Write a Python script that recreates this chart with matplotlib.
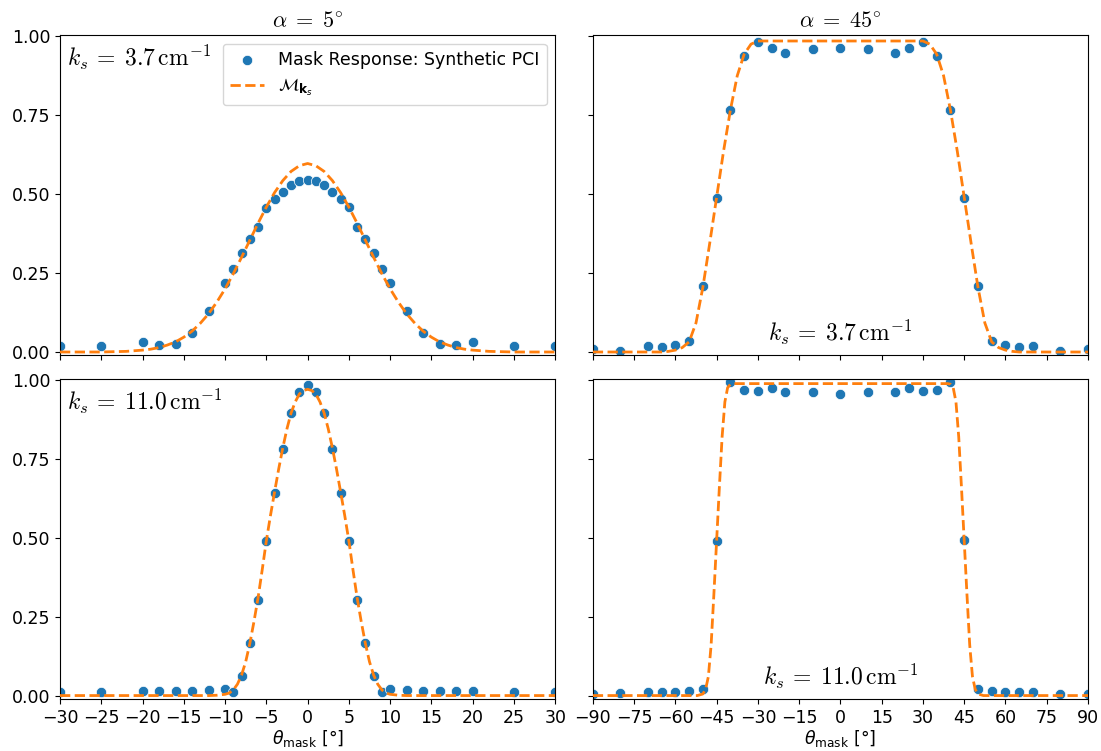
import matplotlib
matplotlib.use("Agg")
import matplotlib.pyplot as plt

# measured mask response, alpha = 5 deg
theta5 = [-30, -25, -20, -18, -16, -14, -12, -10, -9, -8, -7, -6, -5, -4, -3, -2, -1, 0,
          1, 2, 3, 4, 5, 6, 7, 8, 9, 10, 12, 14, 16, 18, 20, 25, 30]
resp5_k37 = [0.019, 0.019, 0.031, 0.022, 0.026, 0.061, 0.130, 0.217, 0.263, 0.312, 0.358, 0.396,
             0.457, 0.485, 0.508, 0.529, 0.543, 0.546, 0.543, 0.529, 0.508, 0.485, 0.459, 0.396,
             0.358, 0.312, 0.263, 0.217, 0.130, 0.061, 0.026, 0.022, 0.031, 0.019, 0.019]
resp5_k110 = [0.010, 0.012, 0.013, 0.013, 0.015, 0.016, 0.017, 0.021, 0.010, 0.061, 0.166, 0.304,
              0.491, 0.642, 0.781, 0.894, 0.961, 0.984, 0.961, 0.894, 0.781, 0.642, 0.491, 0.304,
              0.167, 0.061, 0.010, 0.021, 0.017, 0.016, 0.015, 0.013, 0.013, 0.011, 0.010]

# measured mask response, alpha = 45 deg
theta45 = [-90, -80, -70, -65, -60, -55, -50, -45, -40, -35, -30, -25, -20, -10, 0,
           10, 20, 25, 30, 35, 40, 45, 50, 55, 60, 65, 70, 80, 90]
resp45_k37 = [0.008, 0.003, 0.018, 0.016, 0.023, 0.034, 0.209, 0.489, 0.766, 0.938, 0.981, 0.964,
              0.946, 0.961, 0.963, 0.961, 0.946, 0.964, 0.981, 0.938, 0.766, 0.489, 0.209, 0.034,
              0.023, 0.016, 0.018, 0.003, 0.008]
resp45_k110 = [0.005, 0.007, 0.010, 0.010, 0.011, 0.014, 0.020, 0.490, 0.992, 0.969, 0.966, 0.975,
               0.962, 0.962, 0.956, 0.962, 0.962, 0.975, 0.966, 0.969, 0.992, 0.492, 0.020, 0.014,
               0.011, 0.010, 0.010, 0.005, 0.005]

# model curves M_ks
mx5_k37 = [-30, -25, -22, -20, -19, -18, -17, -16, -15, -14, -13, -12, -11, -10, -9, -8, -7, -6,
           -5, -4, -3, -2, -1, 0, 1, 2, 3, 4, 5, 6, 7, 8, 9, 10, 11, 12, 13, 14, 15, 16, 17, 18,
           19, 20, 22, 25, 30]
my5_k37 = [0.0, 0.0, 0.002, 0.006, 0.009, 0.014, 0.022, 0.032, 0.047, 0.066, 0.091, 0.121, 0.158,
           0.200, 0.248, 0.300, 0.354, 0.408, 0.459, 0.505, 0.543, 0.572, 0.590, 0.597, 0.590,
           0.572, 0.543, 0.505, 0.459, 0.408, 0.354, 0.300, 0.248, 0.200, 0.158, 0.121, 0.091,
           0.066, 0.047, 0.032, 0.022, 0.014, 0.009, 0.006, 0.002, 0.0, 0.0]
mx5_k110 = [-30, -12, -11, -10, -9.5, -9, -8.5, -8, -7.5, -7, -6.5, -6, -5.5, -5, -4.5, -4, -3.5,
            -3, -2.5, -2, -1.5, -1, -0.5, 0, 0.5, 1, 1.5, 2, 2.5, 3, 3.5, 4, 4.5, 5, 5.5, 6, 6.5,
            7, 7.5, 8, 8.5, 9, 9.5, 10, 11, 12, 30]
my5_k110 = [0.0, 0.0, 0.001, 0.004, 0.008, 0.018, 0.036, 0.065, 0.107, 0.165, 0.234, 0.310, 0.398,
            0.490, 0.570, 0.645, 0.718, 0.785, 0.845, 0.895, 0.930, 0.955, 0.966, 0.970, 0.966,
            0.955, 0.930, 0.895, 0.845, 0.785, 0.718, 0.645, 0.570, 0.490, 0.398, 0.310, 0.234,
            0.165, 0.107, 0.065, 0.036, 0.018, 0.008, 0.004, 0.001, 0.0, 0.0]
mx45_k37 = [-90, -65, -62.5, -60, -57.5, -55, -52.5, -50, -47.5, -45, -42.5, -40, -37.5, -35,
            -32.5, -30, 30, 32.5, 35, 37.5, 40, 42.5, 45, 47.5, 50, 52.5, 55, 57.5, 60, 62.5,
            65, 90]
my45_k37 = [0.0, 0.0, 0.002, 0.006, 0.014, 0.032, 0.092, 0.205, 0.345, 0.490, 0.635, 0.766, 0.875,
            0.943, 0.975, 0.985, 0.985, 0.975, 0.943, 0.875, 0.766, 0.635, 0.490, 0.345, 0.205,
            0.092, 0.032, 0.014, 0.006, 0.002, 0.0, 0.0]
mx45_k110 = [-90, -52, -50, -49, -48, -47, -46, -45, -44, -43, -42, -41, -40, -39,
             39, 40, 41, 42, 43, 44, 45, 46, 47, 48, 49, 50, 52, 90]
my45_k110 = [0.0, 0.0, 0.005, 0.020, 0.060, 0.160, 0.320, 0.490, 0.660, 0.820, 0.930, 0.975,
             0.986, 0.988, 0.988, 0.986, 0.975, 0.930, 0.820, 0.660, 0.490, 0.320, 0.160,
             0.060, 0.020, 0.005, 0.0, 0.0]

plt.rcParams['font.size'] = 12.5

fig, axs = plt.subplots(2, 2, figsize=(11.01, 7.51), dpi=100, sharey=True, sharex='col')
fig.subplots_adjust(left=0.0545, right=0.9882, top=0.9534, bottom=0.0692, wspace=0.076, hspace=0.072)

panels = [
    (axs[0, 0], theta5, resp5_k37, mx5_k37, my5_k37),
    (axs[1, 0], theta5, resp5_k110, mx5_k110, my5_k110),
    (axs[0, 1], theta45, resp45_k37, mx45_k37, my45_k37),
    (axs[1, 1], theta45, resp45_k110, mx45_k110, my45_k110),
]

for ax, tx, ty, mx, my in panels:
    ax.scatter(tx, ty, s=55, color='C0', edgecolors='white', linewidths=0.5,
               label='Mask Response: Synthetic PCI', zorder=2)
    ax.plot(mx, my, '--', color='C1', lw=2, label=r'$\mathcal{M}_{\mathbf{k}_s}$', zorder=3)

for ax in axs[:, 0]:
    ax.set_xlim(-30, 30)
    ax.set_xticks(range(-30, 31, 5))
for ax in axs[:, 1]:
    ax.set_xlim(-90, 90)
    ax.set_xticks(range(-90, 91, 15))
axs[0, 0].set_ylim(-0.011, 1.004)
axs[0, 0].set_yticks([0, 0.25, 0.5, 0.75, 1.0])
axs[0, 0].set_yticklabels(['0.00', '0.25', '0.50', '0.75', '1.00'])

axs[0, 0].set_title(r'$\alpha\;=\;5^{\circ}$', math_fontfamily='cm', fontsize=16)
axs[0, 1].set_title(r'$\alpha\;=\;45^{\circ}$', math_fontfamily='cm', fontsize=16)
for ax in axs[1, :]:
    ax.set_xlabel(r'$\theta_{\mathrm{mask}}$ [°]', labelpad=1)

ks37 = r'$k_s\,=\;3.7\,\mathrm{cm}^{-1}$'
ks110 = r'$k_s\,=\;11.0\,\mathrm{cm}^{-1}$'
axs[0, 0].text(0.015, 0.975, ks37, transform=axs[0, 0].transAxes,
               ha='left', va='top', fontsize=17, math_fontfamily='cm')
axs[1, 0].text(0.015, 0.975, ks110, transform=axs[1, 0].transAxes,
               ha='left', va='top', fontsize=17, math_fontfamily='cm')
axs[0, 1].text(0.5, 0.025, ks37, transform=axs[0, 1].transAxes,
               ha='center', va='bottom', fontsize=17, math_fontfamily='cm')
axs[1, 1].text(0.5, 0.025, ks110, transform=axs[1, 1].transAxes,
               ha='center', va='bottom', fontsize=17, math_fontfamily='cm')

axs[0, 0].legend(loc='upper right', fontsize=12.5)

fig.savefig('out.png', dpi=100)
